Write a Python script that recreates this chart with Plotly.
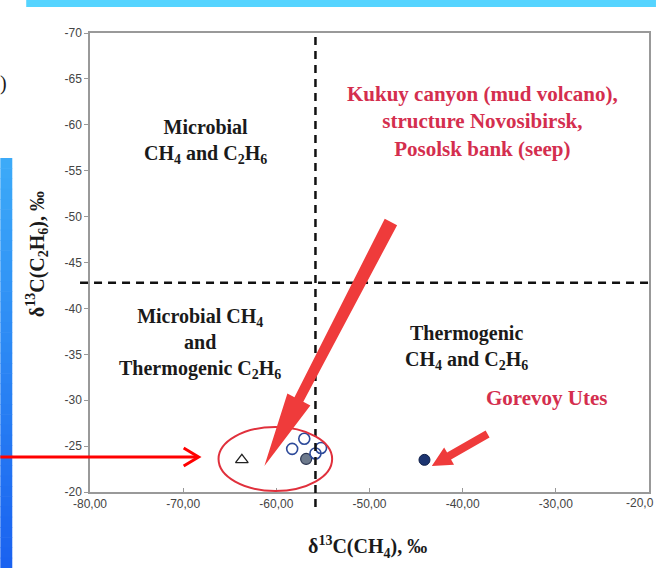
import plotly.graph_objects as go
import math

# ---------------- data ----------------
open_circle_x = [-58.3, -57.0, -55.2, -55.8]
open_circle_y = [-24.7, -25.8, -24.8, -24.2]
gray_circle_x = [-56.8]
gray_circle_y = [-23.6]
triangle_x = [-63.7]
triangle_y = [-23.5]
gorevoy_x = [-44.1]
gorevoy_y = [-23.5]
ch4_boundary = -55.8
c2h6_boundary = -42.8
x_tick_vals = [-80, -70, -60, -50, -40, -30, -20]
x_tick_text = ["-80,00", "-70,00", "-60,00", "-50,00", "-40,00", "-30,00", "-20,00"]
y_tick_vals = [-70, -65, -60, -55, -50, -45, -40, -35, -30, -25, -20]
y_tick_text = ["-70", "-65", "-60", "-55", "-50", "-45", "-40", "-35", "-30", "-25", "-20"]

# ---------------- layout geometry ----------------
W, H = 658, 568
PL, PR, PT, PB = 90, 651, 33, 492


def px(x):
    return (x - PL) / (PR - PL)


def py(y):
    return (PB - y) / (PB - PT)


def arrow_path(tail, tip, w_tail, w_shaft, head_len, head_w):
    dx, dy = tip[0] - tail[0], tip[1] - tail[1]
    L = math.hypot(dx, dy)
    ux, uy = dx / L, dy / L
    nx, ny = -uy, ux
    bx, by = tip[0] - head_len * ux, tip[1] - head_len * uy
    pts = [
        (tail[0] + w_tail * nx, tail[1] + w_tail * ny),
        (bx + w_shaft * nx, by + w_shaft * ny),
        (bx + head_w * nx, by + head_w * ny),
        tip,
        (bx - head_w * nx, by - head_w * ny),
        (bx - w_shaft * nx, by - w_shaft * ny),
        (tail[0] - w_tail * nx, tail[1] - w_tail * ny),
    ]
    s = "M " + " L ".join(f"{px(a):.5f} {py(b):.5f}" for a, b in pts) + " Z"
    return s


fig = go.Figure()

fig.add_trace(go.Scatter(
    x=triangle_x, y=triangle_y, mode="markers",
    marker=dict(symbol="triangle-up-open", size=11, color="#222222", line=dict(width=1.3)),
    showlegend=False))
fig.add_trace(go.Scatter(
    x=gray_circle_x, y=gray_circle_y, mode="markers",
    marker=dict(symbol="circle", size=11, color="#6d7a8c", line=dict(color="#2b3550", width=1.2)),
    showlegend=False))
fig.add_trace(go.Scatter(
    x=open_circle_x, y=open_circle_y, mode="markers",
    marker=dict(symbol="circle-open", size=11, color="#2d4a9a", line=dict(width=1.6)),
    showlegend=False))
fig.add_trace(go.Scatter(
    x=gorevoy_x, y=gorevoy_y, mode="markers",
    marker=dict(symbol="circle", size=11, color="#1c3470", line=dict(color="#0f1f48", width=1)),
    showlegend=False))

shapes = []
# top cyan band
shapes.append(dict(type="rect", xref="paper", yref="paper", x0=px(26), x1=px(W), y0=py(0), y1=py(7),
                   fillcolor="#55d4ff", line=dict(width=0), layer="above"))
# left blue gradient bar
n = 40
top, bot = 158, H
c0, c1 = (0x3c, 0xaa, 0xf8), (0x1a, 0x62, 0xf0)
for i in range(n):
    t = i / (n - 1)
    col = "rgb(%d,%d,%d)" % tuple(round(c0[k] + (c1[k] - c0[k]) * t) for k in range(3))
    y0 = top + (bot - top) * i / n
    y1 = min(bot, top + (bot - top) * (i + 1) / n + 0.6)
    shapes.append(dict(type="rect", xref="paper", yref="paper", x0=px(0), x1=px(12), y0=py(y0), y1=py(y1),
                       fillcolor=col, line=dict(width=0), layer="above"))
# boundary dashed lines
shapes.append(dict(type="line", xref="x", yref="paper", x0=ch4_boundary, x1=ch4_boundary,
                   y0=py(507), y1=py(PT), line=dict(color="#111111", width=2.5, dash="8px,6px"), layer="above"))
shapes.append(dict(type="line", xref="paper", yref="y", x0=px(80), x1=px(PR), y0=c2h6_boundary, y1=c2h6_boundary,
                   line=dict(color="#111111", width=2.5, dash="8px,6px"), layer="above"))
# red ellipse
shapes.append(dict(type="circle", xref="paper", yref="paper", x0=px(219), x1=px(333), y0=py(427), y1=py(491),
                   line=dict(color="#e0303c", width=2)))
# big red arrow
shapes.append(dict(type="path", xref="paper", yref="paper",
                   path=arrow_path((392, 222), (265, 466), 7, 5, 75, 13),
                   fillcolor="#ef3b3b", line=dict(width=0), layer="above"))
# small red arrow
shapes.append(dict(type="path", xref="paper", yref="paper",
                   path=arrow_path((489, 434), (433, 466), 4, 4, 20, 10),
                   fillcolor="#ef3b3b", line=dict(width=0), layer="above"))
# left horizontal red arrow
shapes.append(dict(type="line", xref="paper", yref="paper", x0=px(0), x1=px(198), y0=py(457), y1=py(457),
                   line=dict(color="#ff0000", width=3), layer="above"))
shapes.append(dict(type="path", xref="paper", yref="paper",
                   path=f"M {px(184)} {py(448)} L {px(199)} {py(457)} L {px(184)} {py(466)}",
                   line=dict(color="#ff0000", width=3), layer="above"))

serif = "Liberation Serif"
black = "#1a1a1a"
red = "#d42e4e"
ann = []


def txt(x, y, s, size=20, color=black, family=serif, **kw):
    d = dict(xref="paper", yref="paper", x=px(x), y=py(y), text=s, showarrow=False,
             font=dict(family=family, size=size, color=color), xanchor="center", yanchor="middle")
    d.update(kw)
    ann.append(d)


txt(206, 141, "<b>Microbial<br>CH<sub>4</sub> and C<sub>2</sub>H<sub>6</sub></b>")
txt(200, 343, "<b>Microbial CH<sub>4</sub><br>and<br>Thermogenic C<sub>2</sub>H<sub>6</sub></b>")
txt(468, 347, "<b>Thermogenic<br>CH<sub>4</sub> and C<sub>2</sub>H<sub>6</sub></b>")
txt(484, 121, "<b>Kukuy canyon (mud volcano),<br>structure Novosibirsk,<br>Posolsk bank (seep)</b>",
    size=21, color=red)
txt(549, 398, "<b>Gorevoy Utes</b>", size=21, color=red)
txt(368, 547, "<b>δ<sup>13</sup>C(CH<sub>4</sub>), ‰</b>", size=20)
txt(37, 254, "<b>δ<sup>13</sup>C(C<sub>2</sub>H<sub>6</sub>), ‰</b>", size=20, textangle=-90)
txt(9, 83, ")", size=20, xanchor="right")
# last x tick label, partly cut by the slide edge in the reference
txt(658, 503, x_tick_text[-1][:-1], size=12, color="#444444", family="Liberation Sans", xanchor="right")

fig.update_layout(
    width=W, height=H,
    margin=dict(l=PL, r=W - PR, t=PT, b=H - PB),
    paper_bgcolor="white", plot_bgcolor="white",
    shapes=shapes, annotations=ann,
    showlegend=False,
    xaxis=dict(range=[-80, -20], tickvals=x_tick_vals, ticktext=x_tick_text,
               showgrid=False, zeroline=False, showline=True, linecolor="#999999", linewidth=1.5,
               mirror=True, ticks="inside", ticklen=4, tickcolor="#999999",
               tickfont=dict(family="Liberation Sans", size=12, color="#444444")),
    yaxis=dict(range=[-20, -70], tickvals=y_tick_vals, ticktext=y_tick_text,
               showgrid=False, zeroline=False, showline=True, linecolor="#999999", linewidth=1.5,
               mirror=True, ticks="outside", ticklen=4, tickcolor="#999999",
               tickfont=dict(family="Liberation Sans", size=12, color="#444444")),
)

post = (
    "document.documentElement.style.overflow='hidden';"
    "document.body.style.margin='0px';document.body.style.overflow='hidden';"
)
fig.write_html("out.html", config={"displayModeBar": False}, post_script=post)
